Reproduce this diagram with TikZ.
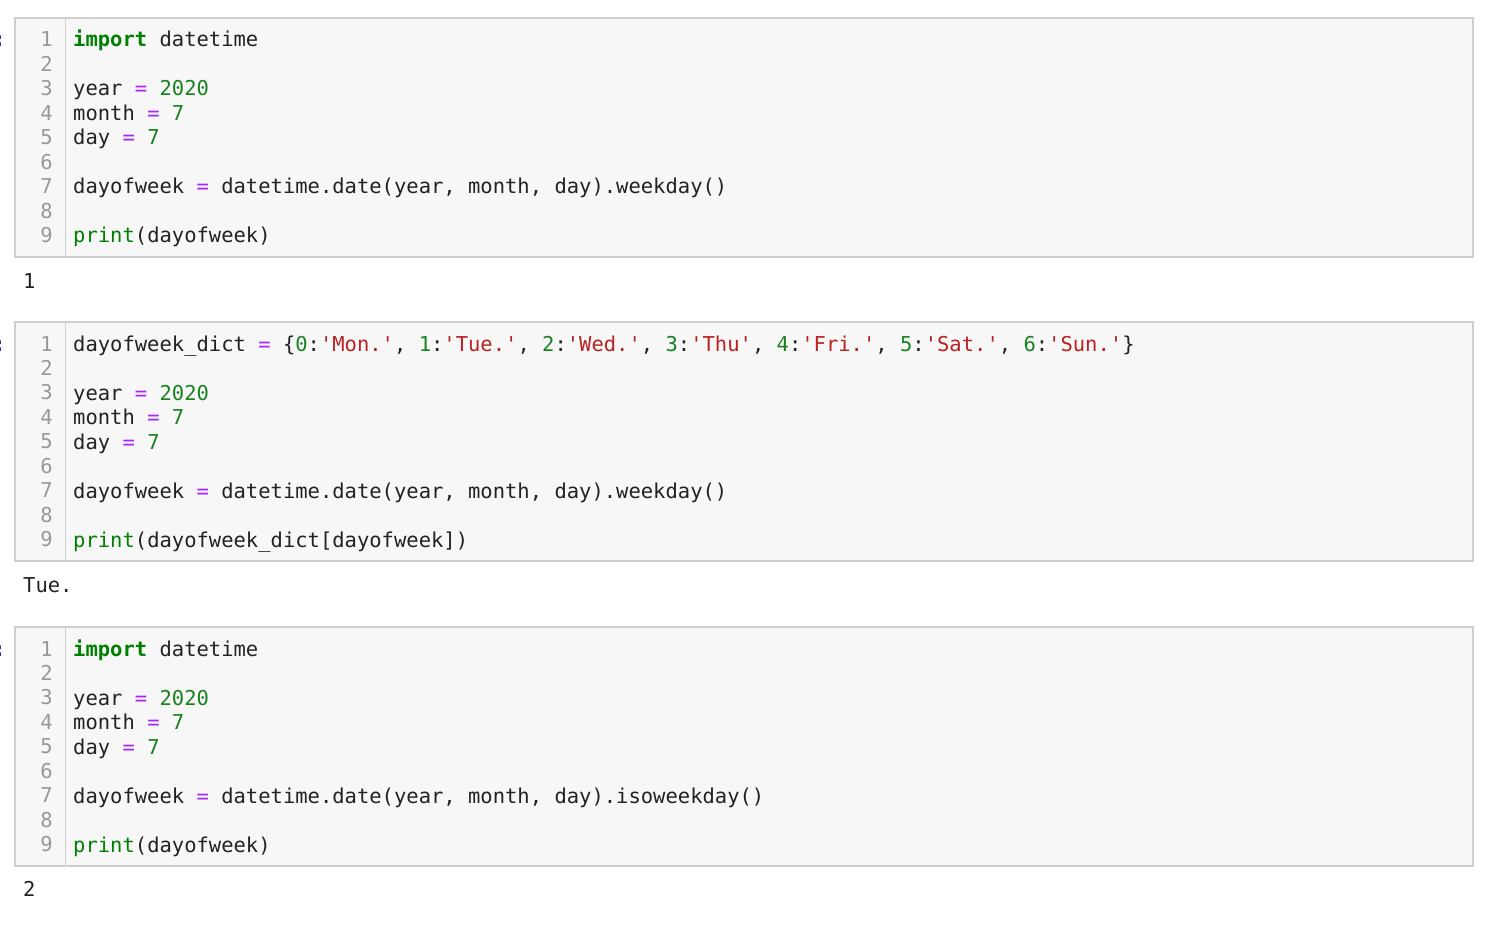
\documentclass[tikz,border=0pt]{standalone}
\usepackage{fontspec}
\newfontfamily\mono[Ligatures=ResetAll]{DejaVu Sans Mono}
\definecolor{kw}{HTML}{008000}
\definecolor{num}{HTML}{19821F}
\definecolor{str}{HTML}{BA2121}
\definecolor{op}{HTML}{AA22FF}
\definecolor{lno}{HTML}{999999}
\definecolor{cellbg}{HTML}{F7F7F7}
\definecolor{cellbd}{HTML}{CFCFCF}
\definecolor{txt}{HTML}{222222}
\newcommand{\myKw}[1]{\textcolor{kw}{\bfseries #1}}
\newcommand{\myNm}[1]{\textcolor{num}{#1}}
\newcommand{\mySq}[1]{\textcolor{str}{\char39 #1\char39}}
\newcommand{\myEq}{\textcolor{op}{=}}
\newcommand{\myPrt}{\textcolor{kw}{print}}
\begin{document}
\begin{tikzpicture}[x=1pt,y=-1pt,
  code/.style={anchor=base west,inner sep=0pt,font=\fontsize{20.5}{24}\mono,text=txt},
  lnum/.style={anchor=base east,inner sep=0pt,font=\fontsize{20.5}{24}\mono,text=lno},
  cell/.style={draw=cellbd,fill=cellbg,line width=1.2pt},
  prompt/.style={anchor=base west,inner sep=0pt,font=\fontsize{20.5}{24}\mono\bfseries,text=blue!70!black}]
\useasboundingbox (0,0) rectangle (1500,928);
\fill[white] (0,0) rectangle (1500,928);
\foreach \top/\nm in {18/a,322/b,627/c}{
  \draw[cell] (15,\top) rectangle (1473,\top+239);
  \draw[cellbd,line width=1pt] (65,\top) -- (65,\top+239);
  \node[prompt] (p\nm) at (-7,\top+29) {:};
  \foreach \i in {1,...,9}{
    \node[lnum] (l\nm\i) at (53,\top+29+24.45*\i-24.45) {\i};
  }
}
% cell 1
\node[code] (a1) at (73,47) {\myKw{import} datetime};
\node[code] (a3) at (73,96) {year \myEq{} \myNm{2020}};
\node[code] (a4) at (73,120.5) {month \myEq{} \myNm{7}};
\node[code] (a5) at (73,145) {day \myEq{} \myNm{7}};
\node[code] (a7) at (73,194) {dayofweek \myEq{} datetime.date(year, month, day).weekday()};
\node[code] (a9) at (73,243) {\myPrt(dayofweek)};
\node[code] (o1) at (23,288) {1};
% cell 2
\node[code] (b1) at (73,351) {dayofweek\_dict \myEq{} \{\myNm{0}:\mySq{Mon.}, \myNm{1}:\mySq{Tue.}, \myNm{2}:\mySq{Wed.}, \myNm{3}:\mySq{Thu}, \myNm{4}:\mySq{Fri.}, \myNm{5}:\mySq{Sat.}, \myNm{6}:\mySq{Sun.}\}};
\node[code] (b3) at (73,400) {year \myEq{} \myNm{2020}};
\node[code] (b4) at (73,424.5) {month \myEq{} \myNm{7}};
\node[code] (b5) at (73,449) {day \myEq{} \myNm{7}};
\node[code] (b7) at (73,498) {dayofweek \myEq{} datetime.date(year, month, day).weekday()};
\node[code] (b9) at (73,547) {\myPrt(dayofweek\_dict[dayofweek])};
\node[code] (o2) at (23,592) {Tue.};
% cell 3
\node[code] (c1) at (73,656) {\myKw{import} datetime};
\node[code] (c3) at (73,705) {year \myEq{} \myNm{2020}};
\node[code] (c4) at (73,729.5) {month \myEq{} \myNm{7}};
\node[code] (c5) at (73,754) {day \myEq{} \myNm{7}};
\node[code] (c7) at (73,803) {dayofweek \myEq{} datetime.date(year, month, day).isoweekday()};
\node[code] (c9) at (73,852) {\myPrt(dayofweek)};
\node[code] (o3) at (23,896) {2};
\end{tikzpicture}
\end{document}
